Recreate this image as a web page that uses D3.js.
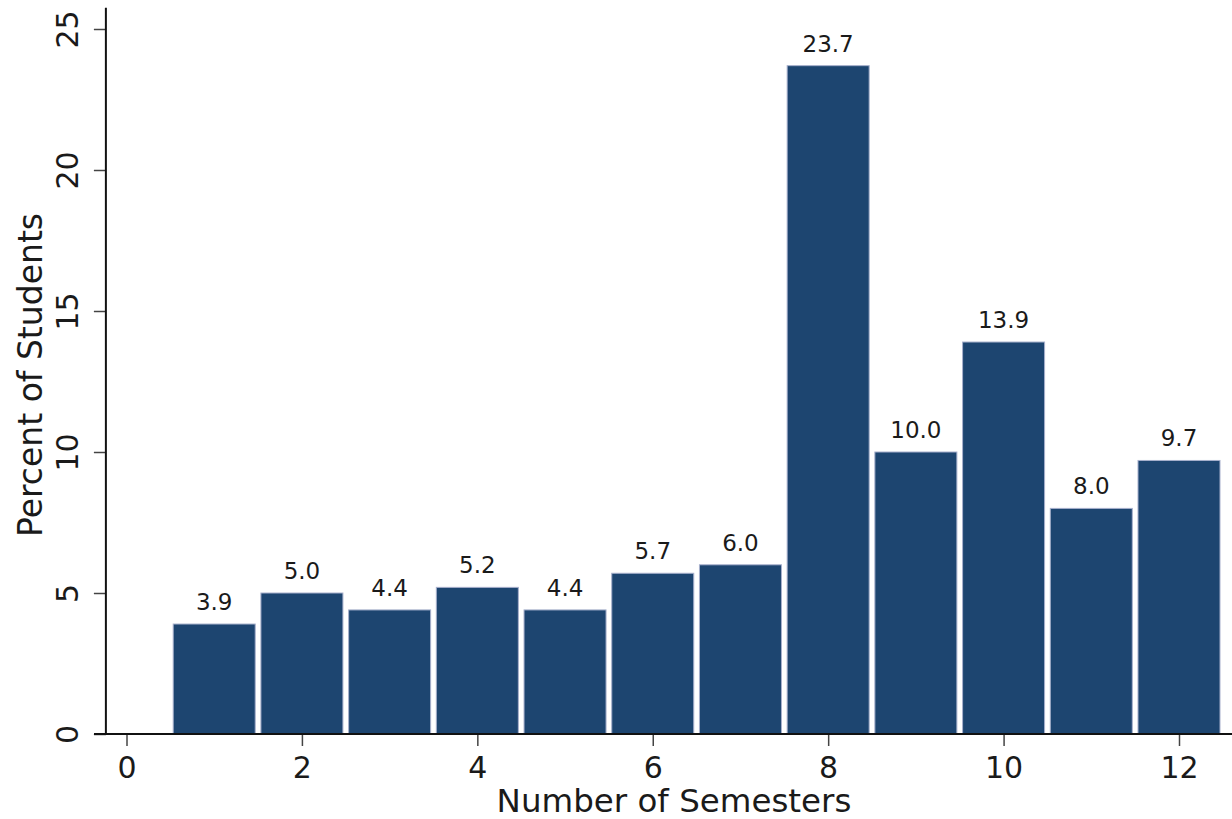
<!DOCTYPE html>
<html>
<head>
<meta charset="utf-8">
<script src="https://cdn.jsdelivr.net/npm/d3@7"></script>
<style>
  html, body { margin: 0; padding: 0; background: #fff; }
  svg { display: block; }
  text { font-family: "DejaVu Sans", sans-serif; fill: #1a1a1a; }
</style>
</head>
<body>
<svg id="chart" width="1232" height="819"></svg>
<script>
const semesters = [1, 2, 3, 4, 5, 6, 7, 8, 9, 10, 11, 12];
const percents = [3.9, 5.0, 4.4, 5.2, 4.4, 5.7, 6.0, 23.7, 10.0, 13.9, 8.0, 9.7];
const xTicks = [0, 2, 4, 6, 8, 10, 12];
const yTicks = [0, 5, 10, 15, 20, 25];

const svg = d3.select("#chart");
const x = d3.scaleLinear().domain([0, 12]).range([126.5, 1179]);
const y = d3.scaleLinear().domain([0, 25]).range([734, 29]);
const barW = 0.935;

// bars
svg.append("g").selectAll("rect")
  .data(semesters)
  .join("rect")
  .attr("x", (d) => x(d - barW / 2))
  .attr("width", x(barW) - x(0))
  .attr("y", (d, i) => y(percents[i]))
  .attr("height", (d, i) => y(0) - y(percents[i]))
  .attr("fill", "#1d4570")
  .attr("stroke", "#a7b0cc")
  .attr("stroke-width", 1);

// value labels
svg.append("g").selectAll("text")
  .data(semesters)
  .join("text")
  .attr("x", (d) => x(d))
  .attr("y", (d, i) => y(percents[i]) - 14)
  .attr("text-anchor", "middle")
  .attr("font-size", 23)
  .text((d, i) => percents[i].toFixed(1));

// y axis
const yAxis = d3.axisLeft(y).tickValues(yTicks).tickSize(12).tickPadding(16);
const gy = svg.append("g").attr("transform", `translate(${x(-0.235)},0)`).call(yAxis);
gy.select(".domain").remove();
gy.selectAll(".tick line").attr("stroke", "#444").attr("stroke-width", 1.5);
gy.selectAll(".tick text")
  .attr("font-size", 30)
  .attr("font-family", "DejaVu Sans")
  .attr("fill", "#1a1a1a")
  .attr("x", null).attr("dy", null)
  .attr("text-anchor", "middle")
  .attr("transform", "translate(-28,0) rotate(-90)");
svg.append("line")
  .attr("x1", x(-0.235)).attr("x2", x(-0.235))
  .attr("y1", y(25.75)).attr("y2", y(0))
  .attr("stroke", "#111").attr("stroke-width", 2);

// x axis
const xAxis = d3.axisBottom(x).tickValues(xTicks).tickSize(12).tickPadding(6);
const gx = svg.append("g").attr("transform", `translate(0,${y(0)})`).call(xAxis);
gx.select(".domain").remove();
gx.selectAll(".tick line").attr("stroke", "#444").attr("stroke-width", 1.5);
gx.selectAll(".tick text")
  .attr("font-size", 30)
  .attr("font-family", "DejaVu Sans")
  .attr("fill", "#1a1a1a")
  .attr("dy", null)
  .attr("y", 44);
svg.append("line")
  .attr("x1", 94).attr("x2", 1232)
  .attr("y1", y(0)).attr("y2", y(0))
  .attr("stroke", "#111").attr("stroke-width", 2);

// axis titles
svg.append("text")
  .attr("x", 674)
  .attr("y", 812)
  .attr("text-anchor", "middle")
  .attr("font-size", 32.5)
  .text("Number of Semesters");

svg.append("text")
  .attr("transform", "translate(42,375) rotate(-90)")
  .attr("text-anchor", "middle")
  .attr("font-size", 33)
  .text("Percent of Students");
</script>
</body>
</html>
